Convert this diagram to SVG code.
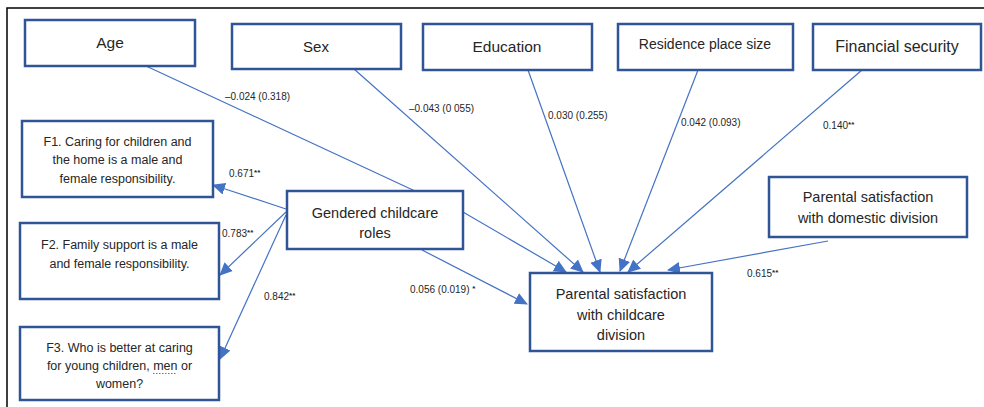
<svg xmlns="http://www.w3.org/2000/svg" width="984" height="407" viewBox="0 0 984 407">
<defs>
<marker id="arr" markerUnits="userSpaceOnUse" markerWidth="13" markerHeight="13" viewBox="0 0 13 13" refX="12" refY="6.5" orient="auto">
<path d="M0,0.5 L13,6.5 L0,12.5 Z" fill="#4472C4"/>
</marker>
<style>
.box{fill:#fff;stroke:#2F5597;stroke-width:2.5}
.t{font-family:"Liberation Sans",Arial,sans-serif;fill:#262626;text-anchor:middle}
.lbl{font-family:"Liberation Sans",Arial,sans-serif;fill:#262626;font-size:10px}
.st{font-size:8px;font-weight:bold}
.ln{fill:none;stroke:#4472C4;stroke-width:1.2}
</style>
</defs>
<rect width="984" height="407" fill="#fff"/>
<path d="M7,407 V8 H984" fill="none" stroke="#000" stroke-width="1.5"/>

<g id="connectors">
<path class="ln" d="M146,66 L415,191 L463,212 L566,272" marker-end="url(#arr)"/>
<path class="ln" d="M354,69 L583,272" marker-end="url(#arr)"/>
<path class="ln" d="M528,70 L600,272" marker-end="url(#arr)"/>
<path class="ln" d="M698,70 L620,271" marker-end="url(#arr)"/>
<path class="ln" d="M862,70 L628,272" marker-end="url(#arr)"/>
<path class="ln" d="M828,241 L668,270" marker-end="url(#arr)"/>
<path class="ln" d="M422,250 L527,304" marker-end="url(#arr)"/>
<path class="ln" d="M286,209 L213,185" marker-end="url(#arr)"/>
<path class="ln" d="M286,212 L220,275" marker-end="url(#arr)"/>
<path class="ln" d="M286,215 L220,359" marker-end="url(#arr)"/>
<text class="lbl" x="225" y="99.5">–0.024 (0.318)</text>
<text class="lbl" x="409" y="111.5">–0.043 (0 055)</text>
<text class="lbl" x="548" y="118.5">0.030 (0.255)</text>
<text class="lbl" x="681" y="125.5">0.042 (0.093)</text>
<text class="lbl" x="823" y="128.5">0.140<tspan class="st" dy="-2">**</tspan></text>
<text class="lbl" x="229" y="176.5">0.671<tspan class="st" dy="-2">**</tspan></text>
<text class="lbl" x="222" y="236.5">0.783<tspan class="st" dy="-2">**</tspan></text>
<text class="lbl" x="264" y="299.5">0.842<tspan class="st" dy="-2">**</tspan></text>
<text class="lbl" x="410" y="292.5">0.056 (0.019) <tspan class="st" dy="-2">*</tspan></text>
<text class="lbl" x="747" y="276.5">0.615<tspan class="st" dy="-2">**</tspan></text>
</g>

<g id="age">
<rect class="box" x="25" y="20" width="170" height="46"/>
<text class="t" x="110" y="48" font-size="15.5">Age</text>
</g>
<g id="sex">
<rect class="box" x="232" y="24" width="169" height="45"/>
<text class="t" x="316" y="52" font-size="15">Sex</text>
</g>
<g id="education">
<rect class="box" x="423" y="24" width="169" height="46"/>
<text class="t" x="507" y="52" font-size="15.5">Education</text>
</g>
<g id="residence">
<rect class="box" x="618" y="24" width="175" height="46"/>
<text class="t" x="705" y="49" font-size="14">Residence place size</text>
</g>
<g id="financial">
<rect class="box" x="813" y="24" width="168" height="46"/>
<text class="t" x="897" y="52" font-size="16">Financial security</text>
</g>
<g id="f1">
<rect class="box" x="22" y="121" width="191" height="76"/>
<text class="t" font-size="12.5"><tspan x="117.5" y="145.5">F1. Caring for children and</tspan><tspan x="117.5" y="164">the home is a male and</tspan><tspan x="117.5" y="182.5">female responsibility.</tspan></text>
</g>
<g id="gendered">
<rect class="box" x="287" y="191" width="176" height="58"/>
<text class="t" font-size="14.5"><tspan x="375" y="218">Gendered childcare</tspan><tspan x="375" y="238">roles</tspan></text>
</g>
<g id="f2">
<rect class="box" x="20" y="223" width="199" height="76"/>
<text class="t" font-size="12.5"><tspan x="119.5" y="248.5">F2. Family support is a male</tspan><tspan x="119.5" y="267.5">and female responsibility.</tspan></text>
</g>
<g id="f3">
<rect class="box" x="20" y="327" width="199" height="73"/>
<text class="t" font-size="12.5"><tspan x="119.5" y="351.5">F3. Who is better at caring</tspan><tspan x="119.5" y="370">for young children, men or</tspan><tspan x="119.5" y="388">women?</tspan></text>
<line x1="153" y1="373.5" x2="177" y2="373.5" stroke="#6B6BD6" stroke-width="1" stroke-dasharray="1.5,1.5"/>
</g>
<g id="domestic">
<rect class="box" x="769" y="177" width="198" height="60"/>
<text class="t" font-size="14.5"><tspan x="868" y="202">Parental satisfaction</tspan><tspan x="868" y="223">with domestic division</tspan></text>
</g>
<g id="childcare">
<rect class="box" x="530" y="273" width="182" height="78"/>
<text class="t" font-size="14.5"><tspan x="621" y="299">Parental satisfaction</tspan><tspan x="621" y="320">with childcare</tspan><tspan x="621" y="340">division</tspan></text>
</g>
</svg>
